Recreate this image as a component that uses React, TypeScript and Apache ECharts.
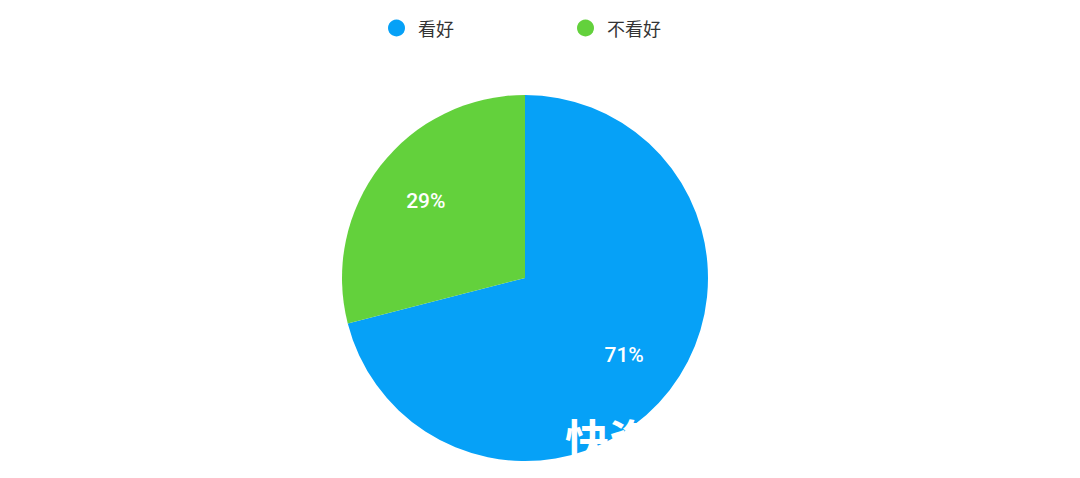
import { useEffect, useRef } from 'react'
import * as echarts from 'echarts'

// 看好 / 不看好 比例
const categories = ['看好', '不看好']
const shares = [71, 29]
const colors = ['#06a1f7', '#63d13c']

function App() {
  const chartRef = useRef<HTMLDivElement>(null)

  useEffect(() => {
    document.body.style.margin = '0'
    if (!chartRef.current) return
    const chart = echarts.init(chartRef.current, undefined, { renderer: 'svg' })

    const pieData = categories.map((name, i) => ({
      name,
      value: shares[i],
      itemStyle: { color: colors[i] },
    }))

    const option: echarts.EChartsOption = {
      animation: false,
      backgroundColor: '#ffffff',
      legend: {
        data: categories,
        left: 383,
        top: 14,
        icon: 'circle',
        itemWidth: 17,
        itemHeight: 17,
        itemGap: 123,
        textStyle: {
          color: '#333333',
          fontSize: 18,
          fontFamily: 'Noto Sans CJK SC',
          padding: [0, 0, 0, 8],
        },
      },
      series: [
        {
          type: 'pie',
          center: [525, 278],
          radius: 183,
          startAngle: 90,
          clockwise: true,
          label: { show: false },
          labelLine: { show: false },
          emphasis: { disabled: true },
          data: pieData,
        },
        {
          // 透明的环，只用来把百分比标签放到外侧
          type: 'pie',
          center: [525, 278],
          radius: [62, 183],
          startAngle: 90,
          clockwise: true,
          silent: true,
          legendHoverLink: false,
          itemStyle: { color: 'transparent' },
          label: {
            show: true,
            position: 'inside',
            formatter: '{c}%',
            color: '#ffffff',
            fontSize: 21,
            fontWeight: 500,
            fontFamily: 'Roboto',
          },
          labelLine: { show: false },
          emphasis: { disabled: true },
          data: categories.map((name, i) => ({
            name: name + ' ',
            value: shares[i],
            itemStyle: { color: 'transparent' },
          })),
        },
      ],
      graphic: [
        {
          type: 'text',
          left: 565,
          top: 416,
          z: 100,
          style: {
            text: '快资讯',
            fill: '#ffffff',
            fontSize: 44,
            fontWeight: 'bold',
            fontFamily: 'Noto Sans CJK SC',
          },
        },
      ],
    }

    chart.setOption(option)

    return () => {
      chart.dispose()
    }
  }, [])

  return <div ref={chartRef} style={{ width: 1080, height: 478 }} />
}

export default App
